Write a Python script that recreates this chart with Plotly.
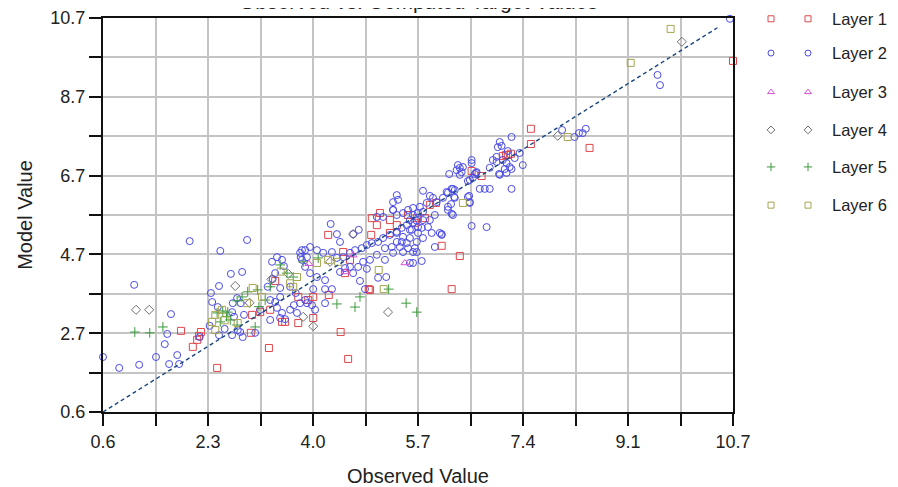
import numpy as np
import plotly.graph_objects as go

# ---------------- data (observed, model) ----------------
layer1 = [(1.85,2.68),(2.17,2.65),(2.14,2.55),(2.11,2.45),(2.04,2.27),(2.43,1.73),(3.26,2.24),(2.97,2.63),
          (3.47,2.91),(4.21,5.14),(4.90,5.14),(4.99,5.39),(5.04,5.70),(4.91,5.57),(5.20,5.52),(5.31,5.39),
          (5.20,5.19),(5.49,5.65),(5.63,5.57),(5.60,5.45),(5.76,5.57),(5.84,5.91),(5.94,5.96),(6.03,4.86),
          (6.32,4.60),(6.19,3.75),(4.86,3.75),(4.22,3.60),(3.97,3.55),(3.89,3.47),(3.73,3.55),(3.73,2.88),
          (3.97,3.01),(3.52,2.91),(4.41,2.65),(4.53,1.96),(6.51,6.78),(6.67,6.65),(7.01,7.16),(7.06,7.19),
          (7.09,7.19),(7.14,7.22),(7.46,7.86),(7.46,7.47),(8.40,7.37),(10.7,9.6),(3.12,3.16),(2.99,3.09),
          (3.28,3.22),(3.36,3.96),(4.45,4.70),(4.56,4.50),(4.48,4.16),(4.88,3.73)]

layer2 = [(0.6,2.01),(0.86,1.73),(1.10,3.86),(1.18,1.81),(1.45,2.01),(1.69,3.11),(1.63,2.60),(1.59,2.34),
          (1.79,2.06),(1.66,1.83),(1.82,1.83),(2.48,4.73),(2.33,3.65),(2.46,3.83),(2.65,4.14),(2.83,4.19),
          (2.35,3.42),(2.44,3.29),(2.31,2.81),(2.46,2.57),(2.55,2.73),(2.68,3.39),(2.75,3.52),(2.81,3.39),
          (2.76,2.70),(2.80,2.65),(2.84,2.52),(3.04,2.63),(3.31,4.45),(3.39,4.57),(3.47,4.50),(3.50,4.34),
          (3.36,4.16),(3.32,4.01),(3.24,3.81),(3.44,3.55),(3.36,3.42),(3.28,2.96),(3.47,3.14),(3.52,2.98),
          (1.99,4.98),(2.91,5.01),
          (2.67,3.16),(2.70,3.04),(2.86,3.09),(3.60,3.81),(3.69,3.65),(3.76,4.68),(3.84,4.75),(3.77,4.57),
          (3.44,3.78),(3.28,3.47),(3.39,3.27),(3.60,3.22),(3.44,3.01),(3.12,3.22),(3.71,3.14),(3.66,3.34),
          (3.76,3.39),(2.67,2.57),(2.15,2.52),(3.84,3.47),(3.95,3.34),
          (4.25,5.42),(4.35,5.16),(4.40,4.96),(4.61,5.16),(4.70,5.27),(3.79,4.75),(3.92,4.83),(4.03,4.75),
          (4.13,4.68),(4.27,4.70),(3.87,4.57),(4.35,4.55),(4.45,4.57),(4.56,4.68),(4.64,4.75),(4.75,4.80),
          (4.83,4.88),(4.91,4.93),(5.01,4.96),(5.09,5.06),(5.20,5.14),(5.31,5.22),(5.39,5.32),(5.47,5.39),
          (5.57,5.45),(5.65,5.34),(5.12,4.80),(5.23,4.83),(5.36,4.83),(5.47,4.93),(5.57,4.70),(5.25,4.68),
          (4.99,4.63),(5.12,4.50),(4.88,4.50),(4.77,4.45),(4.69,4.32),(4.56,4.32),(4.48,4.29),(4.40,4.19),
          (4.61,4.16),(4.83,4.27),(4.72,3.96),(5.01,4.04),(5.14,4.06),(4.80,3.75),(4.16,3.75),(4.27,3.75),
          (3.97,3.75),(4.03,4.06),(4.16,3.98),(3.92,4.16),(3.84,4.32),(3.79,4.50),(5.52,4.42),(5.55,5.27),
          (5.25,5.78),(5.31,5.65),(5.41,5.70),(5.09,5.60),(4.99,5.60),(3.87,3.39),(4.16,3.39),(4.00,3.22),
          (6.15,6.70),(6.32,6.68),(6.35,6.75),(6.56,6.70),(6.96,6.68),(7.07,6.73),(5.73,6.27),(5.84,6.14),
          (5.89,6.09),(5.79,5.96),(5.95,5.98),(6.19,6.32),(6.24,6.29),(6.13,6.22),(6.23,6.11),(6.05,6.09),
          (6.18,5.93),(6.13,5.78),(6.19,5.68),(6.47,6.14),(6.48,5.96),(6.64,6.32),(6.72,6.32),(6.80,6.32),
          (6.45,6.52),(6.53,6.60),(5.31,6.16),(5.33,6.04),(5.25,5.98),(5.25,5.78),(5.49,5.78),(5.57,5.83),
          (5.68,5.86),(5.73,5.73),(5.65,5.70),(5.57,5.65),(5.52,5.52),(5.63,5.50),(5.73,5.52),(5.84,5.52),
          (5.92,5.65),(5.81,5.34),(5.71,5.32),(5.87,5.19),(5.65,5.19),(5.52,5.27),(5.31,5.19),(5.41,5.09),
          (5.52,5.06),(5.39,4.96),(5.31,4.96),(5.63,4.96),(5.73,5.06),(5.60,4.80),(5.49,4.80),(5.41,4.70),
          (5.63,4.70),(6.00,5.19),(6.03,5.14),(5.92,4.83),(6.51,5.37),(6.75,5.34),(5.71,4.47),(5.57,4.42),
          (7.15,7.65),(6.96,7.52),(6.99,7.42),(6.93,7.39),(7.09,7.29),(6.91,7.14),(6.85,7.06),(6.91,7.01),
          (7.01,7.06),(7.07,6.98),(7.20,7.11),(7.28,7.24),(7.33,6.93),(7.12,6.88),(7.15,6.83),(7.04,6.83),
          (6.95,6.70),(6.80,6.86),(6.59,6.75),(6.51,6.98),(6.51,7.06),(6.48,6.55),(7.15,6.32),(7.96,7.83),
          (8.16,7.65),(8.23,7.75),(8.29,7.75),(8.34,7.86),(6.48,5.98),(6.29,6.93),(6.32,6.86),(6.37,6.88),
          (6.27,6.80),(6.11,6.24),(6.21,6.32),(6.24,6.09),(6.13,5.86),(6.21,5.65),(6.45,6.11),(6.58,6.73),
          (6.03,5.16),(10.65,10.68),(9.49,9.24),(9.53,8.98)]

layer3 = [(5.44,4.42),(4.48,4.19),(4.61,4.62),(3.90,4.40)]

layer4 = [(1.13,3.22),(1.34,3.22),(2.72,3.83),(3.57,4.14),(3.81,3.04),(3.97,2.80),(4.61,5.16),(5.17,3.16),
          (7.89,7.68),(9.88,10.09),(4.24,4.45),(3.30,4.00),(2.95,3.40)]

layer5 = [(1.11,2.65),(1.35,2.63),(1.56,2.78),(2.83,3.55),(2.75,3.45),(2.92,3.68),(3.08,3.73),(2.43,3.14),
          (2.52,3.19),(2.60,3.16),(2.64,2.96),(2.75,2.83),(2.48,2.91),(3.04,2.78),(3.20,3.47),(3.28,3.81),
          (3.44,4.37),(3.55,4.16),(3.65,4.06),(4.72,3.55),(4.64,3.29),(4.35,3.37),(5.18,3.75),(5.46,3.39),
          (5.63,3.16),(3.81,4.45),(4.05,4.55),(2.58,3.05),(3.10,3.30)]

layer6 = [(3.00,3.78),(3.15,3.55),(2.91,3.39),(2.40,3.09),(2.35,2.91),(2.51,3.22),(3.71,4.06),(3.60,3.90),
          (3.65,3.81),(2.76,2.88),(2.40,2.70),(5.02,4.24),(5.10,3.75),(6.37,5.96),(8.05,7.65),(9.06,9.55),
          (9.70,10.42),(4.37,4.45),(4.21,4.50),(4.03,4.42),(3.45,4.20),(2.55,2.95)]

layer_names = ["Layer 1", "Layer 2", "Layer 3", "Layer 4", "Layer 5", "Layer 6"]
x_tick_labels = ["0.6", "2.3", "4.0", "5.7", "7.4", "9.1", "10.7"]
y_tick_labels = ["0.6", "2.7", "4.7", "6.7", "8.7", "10.7"]
axis_min, axis_max = 0.6, 10.7
fit_line = [0.6, 10.45]

# ---------------- styles ----------------
colors = ["#e0474c", "#4a4ae6", "#d84fd8", "#6e6e6e", "#3c9a3c", "#a6a64e"]
symbols = ["square-open", "circle-open", "triangle-up-open", "diamond-open", "cross-thin-open", "square-open"]
FONT = "Arial, Liberation Sans, sans-serif"

# page body adds an 8px offset; margins are chosen so the plot box lands where the reference has it
ML, MR, MT, MB = 95, 10, 10, 83
PW = 898.0 - ML - MR
PH = 487.0 - MT - MB
main_dom = 630 / PW

fig = go.Figure()
layers = [layer1, layer2, layer3, layer4, layer5, layer6]
for name, pts, c, s in zip(layer_names, layers, colors, symbols):
    fig.add_trace(go.Scatter(
        x=[p[0] for p in pts], y=[p[1] for p in pts], mode="markers", name=name,
        marker=dict(symbol=s, size=7, color=c, line=dict(color=c, width=1)),
        cliponaxis=False, showlegend=False))

fig.add_trace(go.Scatter(x=fit_line, y=fit_line, mode="lines",
                         line=dict(color="#17457e", width=1.4, dash="4px,3px"),
                         showlegend=False, hoverinfo="skip"))

# manual legend (two marker samples per entry, as in the reference)
leg_x0 = 0.83
leg_rows = [0.998, 0.911, 0.812, 0.716, 0.622, 0.525]
leg_mark_x = [668 / PW, 705 / PW]
leg_text_x = 727 / PW
for i, (name, c, s) in enumerate(zip(layer_names, colors, symbols)):
    yp = leg_rows[i]
    fig.add_trace(go.Scatter(
        x=leg_mark_x, y=[yp, yp], xaxis="x2", yaxis="y2",
        mode="markers", marker=dict(symbol=s, size=6, color=c, line=dict(color=c, width=1)),
        showlegend=False, hoverinfo="skip", cliponaxis=False))
    fig.add_annotation(x=leg_text_x, y=yp, xref="paper", yref="paper", text=name,
                       showarrow=False, xanchor="left", yanchor="middle",
                       font=dict(family=FONT, size=16.5, color="#222222"))

xt = np.linspace(axis_min, axis_max, len(x_tick_labels))
yt = np.linspace(axis_min, axis_max, len(y_tick_labels))
xm = (xt[:-1] + xt[1:]) / 2
ym = (yt[:-1] + yt[1:]) / 2

axis_common = dict(range=[axis_min, axis_max], showline=True, mirror=True, linecolor="#111111",
                   linewidth=2, ticks="outside", ticklen=12, tickwidth=2, tickcolor="#111111",
                   showgrid=True, gridcolor="#c4c4c4", gridwidth=2, zeroline=False, automargin=False,
                   tickfont=dict(family=FONT, size=18, color="#222222"))

fig.update_layout(
    width=898, height=487, plot_bgcolor="white", paper_bgcolor="white",
    margin=dict(l=ML, r=MR, t=MT, b=MB),
    xaxis=dict(**axis_common, domain=[0, main_dom], tickvals=xt, ticktext=x_tick_labels,
               minor=dict(tickvals=xm, ticks="outside", ticklen=12, tickwidth=2, tickcolor="#111111",
                          showgrid=True, gridcolor="#c4c4c4", gridwidth=2),
               title=dict(text="Observed Value", font=dict(family=FONT, size=20, color="#222222"), standoff=18)),
    yaxis=dict(**axis_common, tickvals=yt, ticktext=y_tick_labels,
               minor=dict(tickvals=ym, ticks="outside", ticklen=12, tickwidth=2, tickcolor="#111111",
                          showgrid=True, gridcolor="#c4c4c4", gridwidth=2),
               title=dict(text="Model Value", font=dict(family=FONT, size=20, color="#222222"), standoff=12)),
    xaxis2=dict(domain=[leg_x0, 1], range=[leg_x0, 1], visible=False, anchor="y2", automargin=False),
    yaxis2=dict(domain=[0, 1], range=[0, 1], visible=False, anchor="x2", automargin=False),
    showlegend=False,
)

fig.add_annotation(x=main_dom / 2, y=1.02, xref="paper", yref="paper",
                   text="Observed vs. Computed Target Values", showarrow=False,
                   xanchor="center", yanchor="bottom", yshift=-5,
                   font=dict(family=FONT, size=21, color="#222222"))

fig.write_html("out.html")
